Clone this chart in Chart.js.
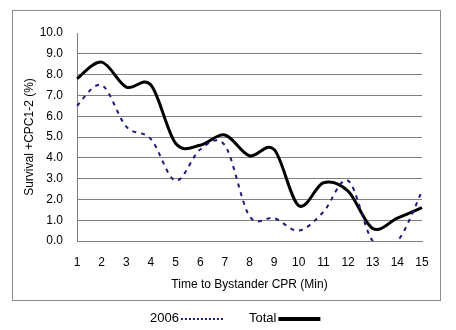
<!DOCTYPE html>
<html>
<head>
<meta charset="utf-8">
<script src="https://cdn.jsdelivr.net/npm/chart.js@4/dist/chart.umd.min.js"></script>
<style>
  html, body { margin: 0; padding: 0; background: #fff; }
  #wrap { width: 456px; height: 330px; }
</style>
</head>
<body>
<div id="wrap"><canvas id="container" width="456" height="330"></canvas></div>
<script>
const MINUTES = ["1", "2", "3", "4", "5", "6", "7", "8", "9", "10", "11", "12", "13", "14", "15"];

const YEAR_2006 = [6.5, 7.5, 5.5, 4.9, 2.9, 4.4, 4.6, 1.2, 1.1, 0.5, 1.4, 2.9, 0.0, 0.0, 2.4];
const TOTAL = [7.8, 8.6, 7.4, 7.5, 4.7, 4.6, 5.1, 4.1, 4.4, 1.7, 2.8, 2.4, 0.6, 1.1, 1.6];

const FONT = "'Liberation Sans', Arial, sans-serif";
const GRID = "#808080";

// office-style smoothing: Catmull-Rom tangents instead of chart.js distance-weighted ones
const smoothPlugin = {
  id: "smooth",
  beforeDatasetDraw(chart, args) {
    const line = args.meta.dataset;
    line.updateControlPoints(chart.chartArea, "x");
    const pts = args.meta.data;
    const n = pts.length;
    for (let i = 0; i < n; i++) {
      const prev = pts[Math.max(i - 1, 0)];
      const next = pts[Math.min(i + 1, n - 1)];
      const dx = (next.x - prev.x) / 6;
      const dy = (next.y - prev.y) / 6;
      pts[i].cp1x = pts[i].x - dx;
      pts[i].cp1y = pts[i].y - dy;
      pts[i].cp2x = pts[i].x + dx;
      pts[i].cp2y = pts[i].y + dy;
    }
  },
};

// frame around the plot + legend under it (text first, then the line sample)
const framePlugin = {
  id: "frame",
  beforeDraw(chart) {
    const ctx = chart.ctx;
    ctx.save();
    ctx.fillStyle = "#fff";
    ctx.fillRect(0, 0, chart.width, chart.height);
    ctx.strokeStyle = "#8c8c8c";
    ctx.lineWidth = 1;
    ctx.strokeRect(12.5, 10.5, 428, 290);
    ctx.restore();
  },
  afterDraw(chart) {
    const ctx = chart.ctx;
    const y = 318;
    let x = 150;
    ctx.save();
    ctx.font = "13px " + FONT;
    ctx.textBaseline = "middle";
    ctx.fillStyle = "#000";
    chart.data.datasets.forEach((ds) => {
      ctx.fillText(ds.label, x, y);
      x += ctx.measureText(ds.label).width + 2;
      ctx.beginPath();
      ctx.strokeStyle = ds.borderColor;
      ctx.lineWidth = ds.legendWidth;
      ctx.setLineDash(ds.legendDash);
      ctx.moveTo(x, y + 1);
      ctx.lineTo(x + 42, y + 1);
      ctx.stroke();
      ctx.setLineDash([]);
      x += 68;
    });
    ctx.restore();
  },
};

new Chart(document.getElementById("container"), {
  type: "line",
  data: {
    labels: MINUTES,
    datasets: [
      {
        label: "2006",
        data: YEAR_2006,
        borderColor: "#1c1c78",
        borderWidth: 2,
        borderDash: [4, 5],
        legendWidth: 2,
        legendDash: [2, 2],
        pointRadius: 0,
        tension: 0.4,
        fill: false,
      },
      {
        label: "Total",
        data: TOTAL,
        borderColor: "#000",
        borderWidth: 3,
        borderDash: [],
        legendWidth: 4,
        legendDash: [],
        pointRadius: 0,
        tension: 0.4,
        fill: false,
      },
    ],
  },
  options: {
    responsive: false,
    animation: false,
    events: [],
    elements: { line: { capBezierPoints: false } },
    layout: { padding: { left: 22, right: 34, top: 33, bottom: 38 } },
    plugins: {
      legend: { display: false },
      tooltip: { enabled: false },
    },
    scales: {
      x: {
        grid: { display: false },
        border: { color: GRID, width: 1 },
        ticks: { color: "#000", font: { family: FONT, size: 12 }, padding: 6, maxRotation: 0 },
        title: {
          display: true,
          text: "Time to Bystander CPR (Min)",
          color: "#000",
          font: { family: FONT, size: 12 },
          padding: { top: 2, bottom: 0 },
        },
        afterFit: (scale) => { scale.height = 51; },
      },
      y: {
        min: 0,
        max: 10,
        grid: {
          display: true,
          drawOnChartArea: true,
          drawTicks: false,
          lineWidth: 1,
          color: (c) => (c.index === 10 ? "rgba(0,0,0,0)" : GRID),
        },
        border: { display: true, color: GRID, width: 1 },
        ticks: {
          stepSize: 1,
          color: "#000",
          font: { family: FONT, size: 12 },
          padding: 14,
          callback: (v) => v.toFixed(1),
        },
        title: {
          display: true,
          text: "Survival +CPC1-2 (%)",
          color: "#000",
          font: { family: FONT, size: 12 },
          padding: { top: 0, bottom: 0 },
        },
        afterFit: (scale) => { scale.width = 55; },
      },
    },
  },
  plugins: [smoothPlugin, framePlugin],
});
</script>
</body>
</html>
